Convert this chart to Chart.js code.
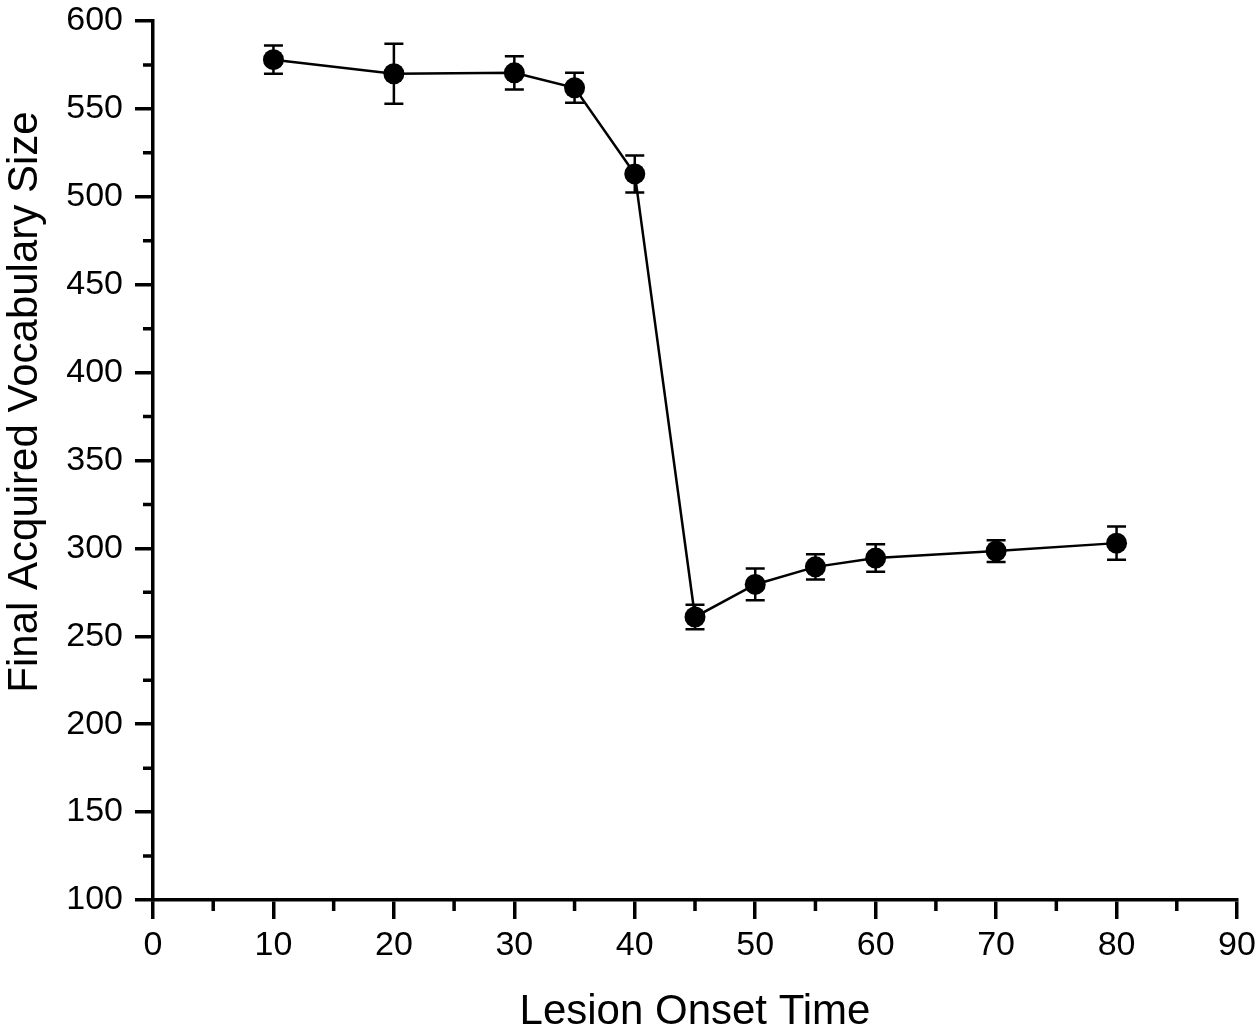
<!DOCTYPE html>
<html>
<head>
<meta charset="utf-8">
<script src="https://cdn.jsdelivr.net/npm/chart.js@4/dist/chart.umd.min.js"></script>
<style>
html,body{margin:0;padding:0;background:#fff;}
#wrap{width:1260px;height:1033px;}
</style>
</head>
<body>
<div id="wrap"><canvas id="c" width="1260" height="1033"></canvas></div>
<script>
const onsetTimes = [10, 20, 30, 35, 40, 45, 50, 55, 60, 70, 80];
const vocabSize  = [578, 570, 570.5, 562, 513, 261, 279.5, 289.5, 294.5, 298.5, 303];
const vocabError = [8, 17, 9.5, 8.5, 10.5, 7, 9, 7.2, 7.8, 6.2, 9.5];
const xTitle = 'Lesion Onset Time';
const yTitle = 'Final Acquired Vocabulary Size';
const xMinorTicks = [5, 15, 25, 35, 45, 55, 65, 75, 85];
const yMinorTicks = [125, 175, 225, 275, 325, 375, 425, 475, 525, 575];

const FONT = "'Liberation Sans', Arial, sans-serif";

const errorBarPlugin = {
  id: 'errorBars',
  afterDatasetsDraw(chart) {
    const ctx = chart.ctx;
    const xs = chart.scales.x, ys = chart.scales.y;
    ctx.save();
    ctx.strokeStyle = '#000';
    ctx.lineWidth = 2.5;
    onsetTimes.forEach((t, i) => {
      const px = xs.getPixelForValue(t);
      const top = ys.getPixelForValue(vocabSize[i] + vocabError[i]);
      const bot = ys.getPixelForValue(vocabSize[i] - vocabError[i]);
      ctx.beginPath();
      ctx.moveTo(px, top); ctx.lineTo(px, bot);
      ctx.moveTo(px - 9.5, top); ctx.lineTo(px + 9.5, top);
      ctx.moveTo(px - 9.5, bot); ctx.lineTo(px + 9.5, bot);
      ctx.stroke();
    });
    ctx.restore();
  }
};

const minorTickPlugin = {
  id: 'minorTicks',
  afterDraw(chart) {
    const ctx = chart.ctx;
    const xs = chart.scales.x, ys = chart.scales.y;
    const area = chart.chartArea;
    ctx.save();
    ctx.strokeStyle = '#000';
    ctx.lineWidth = 3.5;
    ctx.beginPath();
    xMinorTicks.forEach(v => {
      const px = xs.getPixelForValue(v);
      ctx.moveTo(px, area.bottom); ctx.lineTo(px, area.bottom + 11);
    });
    yMinorTicks.forEach(v => {
      const py = ys.getPixelForValue(v);
      ctx.moveTo(area.left, py); ctx.lineTo(area.left - 10, py);
    });
    ctx.stroke();
    // y-axis title, placed as in the reference
    ctx.fillStyle = '#000';
    ctx.font = "42px " + FONT;
    ctx.translate(37, 402);
    ctx.rotate(-Math.PI / 2);
    ctx.textAlign = 'center';
    ctx.textBaseline = 'alphabetic';
    ctx.fillText(yTitle, 0, 0);
    ctx.restore();
  }
};

const noPad = s => { s.paddingTop = 0; s.paddingBottom = 0; s.paddingLeft = 0; s.paddingRight = 0; };

new Chart(document.getElementById('c'), {
  type: 'line',
  data: {
    datasets: [{
      data: onsetTimes.map((t, i) => ({x: t, y: vocabSize[i]})),
      borderColor: '#000',
      borderWidth: 2.5,
      backgroundColor: '#000',
      pointRadius: 10.5,
      pointBackgroundColor: '#000',
      pointBorderColor: '#000',
      pointBorderWidth: 0,
      tension: 0
    }]
  },
  options: {
    responsive: false,
    animation: false,
    devicePixelRatio: 1,
    layout: { padding: { top: 21, right: 23, left: 0, bottom: 0 } },
    plugins: { legend: { display: false }, tooltip: { enabled: false } },
    scales: {
      x: {
        type: 'linear',
        min: 0, max: 90,
        afterFit: s => { s.height = 133; noPad(s); },
        ticks: { stepSize: 10, color: '#000', font: { family: FONT, size: 34 }, padding: 6, maxRotation: 0 },
        grid: { display: true, drawOnChartArea: false, drawTicks: true, tickLength: 19, lineWidth: 3.5, tickWidth: 3.5, tickColor: '#000' },
        border: { display: true, color: '#000', width: 3.5 },
        title: { display: true, text: xTitle, color: '#000', font: { family: FONT, size: 42, lineHeight: 1 }, padding: { top: 0, bottom: 0 } }
      },
      y: {
        type: 'linear',
        min: 100, max: 600,
        afterFit: s => { s.width = 153; noPad(s); },
        ticks: { stepSize: 50, color: '#000', font: { family: FONT, size: 34 }, padding: 12 },
        grid: { display: true, drawOnChartArea: false, drawTicks: true, tickLength: 18, lineWidth: 3.5, tickWidth: 3.5, tickColor: '#000' },
        border: { display: true, color: '#000', width: 3.5 },
        title: { display: false }
      }
    }
  },
  plugins: [errorBarPlugin, minorTickPlugin]
});
</script>
</body>
</html>
